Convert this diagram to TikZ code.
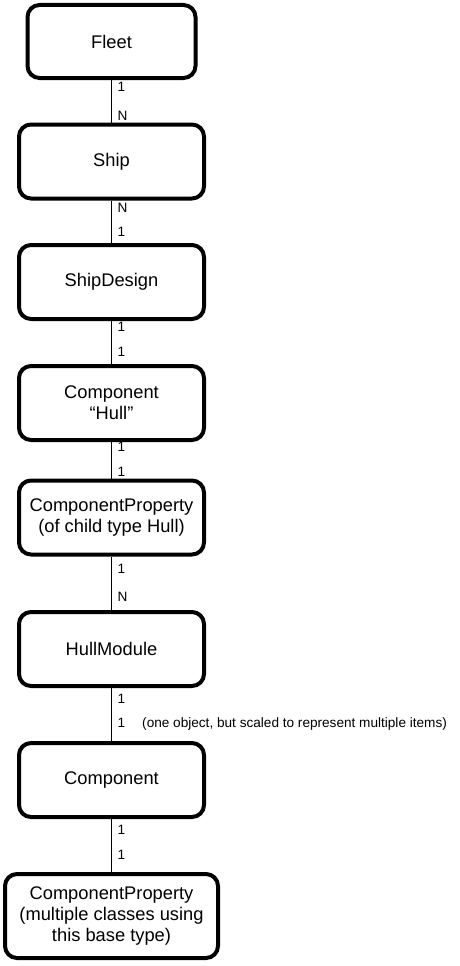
\documentclass[tikz,border=0pt]{standalone}
\usepackage{fontspec}
\setmainfont{Liberation Sans}
\usepackage{tikz}
\usetikzlibrary{positioning}
\tikzset{
  entity/.style={draw,line width=4pt,rounded corners=12pt,minimum width=185pt,
    minimum height=74pt,align=center,inner sep=2pt,font=\fontsize{18.3}{21}\selectfont},
  mult/.style={anchor=west,inner sep=0pt,font=\fontsize{13.6}{15}\selectfont},
  link/.style={line width=1pt}
}

\begin{document}
\begin{tikzpicture}[x=1pt,y=-1pt]
\useasboundingbox (0,0) rectangle (459,966);
% the chain of entities, top to bottom
\node[entity,minimum width=168pt,minimum height=73pt] (fleet) at (111.5,41.5) {Fleet};
\node[entity] (ship) at (111.5,161.5) {Ship};
\node[entity] (design) at (111.5,282) {ShipDesign};
\node[entity] (hull) at (111.5,403) {Component\\“Hull”};
\node[entity] (hullprop) at (111.5,517.5) {ComponentProperty\\(of child type Hull)};
\node[entity] (module) at (111.5,649) {HullModule};
\node[entity] (comp) at (111.5,780) {Component};
\node[entity,minimum width=213pt,minimum height=84pt] (compprop) at (111.5,916) {ComponentProperty\\(multiple classes using\\this base type)};
% connectors
\draw[link] (fleet) -- (ship);
\draw[link] (ship) -- (design);
\draw[link] (design) -- (hull);
\draw[link] (hull) -- (hullprop);
\draw[link] (hullprop) -- (module);
\draw[link] (module) -- (comp);
\draw[link] (comp) -- (compprop);
% multiplicities
\node[mult] (m1a) at (117.5,87) {1};
\node[mult] (m1b) at (117.5,116) {N};
\node[mult] (m2a) at (117.5,208) {N};
\node[mult] (m2b) at (117.5,232) {1};
\node[mult] (m3a) at (117.5,327) {1};
\node[mult] (m3b) at (117.5,352) {1};
\node[mult] (m4a) at (117.5,447) {1};
\node[mult] (m4b) at (117.5,472) {1};
\node[mult] (m5a) at (117.5,569) {1};
\node[mult] (m5b) at (117.5,597) {N};
\node[mult] (m6a) at (117.5,699) {1};
\node[mult] (m6b) at (117.5,724) {1\hspace{17pt}(one object, but scaled to represent multiple items)};
\node[mult] (m7a) at (117.5,830) {1};
\node[mult] (m7b) at (117.5,855) {1};
\end{tikzpicture}
\end{document}
